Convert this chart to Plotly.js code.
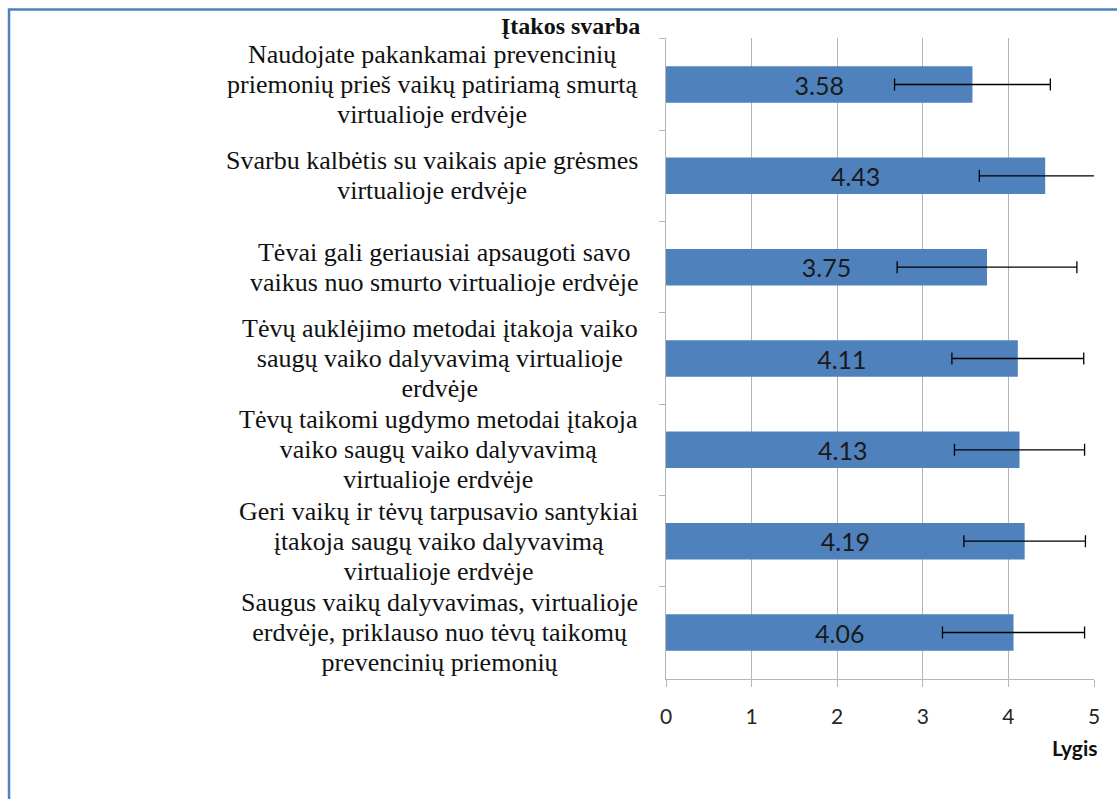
<!DOCTYPE html>
<html>
<head>
<meta charset="utf-8">
<script src="https://cdn.plot.ly/plotly-3.0.1.min.js"></script>
<style>
html,body{margin:0;padding:0;background:#fff;}
#chart{width:1117px;height:799px;}
</style>
</head>
<body>
<div id="chart"></div>
<script>
// ---- data ----
var categories = [
  "Naudojate pakankamai prevencinių|priemonių prieš vaikų patiriamą smurtą|virtualioje erdvėje",
  "Svarbu kalbėtis su vaikais apie grėsmes|virtualioje erdvėje",
  "Tėvai gali geriausiai apsaugoti savo|vaikus nuo smurto virtualioje erdvėje",
  "Tėvų auklėjimo metodai įtakoja vaiko|saugų vaiko dalyvavimą virtualioje|erdvėje",
  "Tėvų taikomi ugdymo metodai įtakoja|vaiko saugų vaiko dalyvavimą|virtualioje erdvėje",
  "Geri vaikų ir tėvų tarpusavio santykiai|įtakoja saugų vaiko dalyvavimą|virtualioje erdvėje",
  "Saugus vaikų dalyvavimas, virtualioje|erdvėje, priklauso nuo tėvų taikomų|prevencinių priemonių"
];
var values = [3.58, 4.43, 3.75, 4.11, 4.13, 4.19, 4.06];
var errors = [0.91, 0.77, 1.05, 0.77, 0.76, 0.71, 0.83];
var xTicks = [0, 1, 2, 3, 4, 5];
var axisTitleY = "Įtakos svarba";
var axisTitleX = "Lygis";

var serif = "Liberation Serif, Times New Roman, serif";
var sans = "Lato, Carlito, Calibri, sans-serif";

var trace = {
  type: "bar",
  orientation: "h",
  y: categories,
  x: values,
  marker: {color: "#4F81BD", line: {width: 0}},
  text: values.map(function(v){return v.toFixed(2);}),
  textposition: "inside",
  insidetextanchor: "middle",
  textangle: 0,
  constraintext: "none",
  textfont: {family: sans, size: 25, color: "#1a1a1a"},
  error_x: {type: "data", array: errors, visible: true, color: "#000000", thickness: 1.3, width: 6},
  hoverinfo: "x+y"
};

var annotations = categories.map(function(c){
  var lines = c.split("|").map(function(l){return '<span style="font-size:26px">' + l + '</span>';});
  return {
    xref: "paper", yref: "y", x: -0.06, y: c,
    xanchor: "right", yanchor: "middle", align: "center",
    showarrow: false, text: lines.join("<br>"),
    font: {family: serif, size: 23, color: "#111111"}
  };
});
annotations.push({
  xref: "paper", yref: "paper", x: -0.056, y: 1.0, xanchor: "right", yanchor: "bottom",
  yshift: -3,
  showarrow: false, text: "<b>" + axisTitleY + "</b>",
  font: {family: serif, size: 24, color: "#111111"}
});
annotations.push({
  xref: "paper", yref: "paper", x: 1.014, y: -0.1076, xanchor: "right", yanchor: "middle",
  showarrow: false, text: "<b>" + axisTitleX + "</b>",
  font: {family: sans, size: 21, color: "#111111"}
});

var layout = {
  width: 1117, height: 799,
  margin: {l: 666, r: 23, t: 38, b: 120, pad: 0},
  paper_bgcolor: "#ffffff", plot_bgcolor: "#ffffff",
  showlegend: false,
  bargap: 0.6,
  xaxis: {
    range: [0, 5], tickvals: xTicks, ticktext: xTicks.map(String),
    showgrid: true, gridcolor: "#b5b5b5", gridwidth: 1,
    zeroline: false, showline: true, linecolor: "#b5b5b5", linewidth: 1,
    ticks: "outside", ticklen: 7, tickcolor: "#b5b5b5",
    ticklabelstandoff: 12,
    tickfont: {family: sans, size: 21, color: "#262626"}
  },
  yaxis: {
    type: "category", autorange: "reversed",
    showticklabels: false, showgrid: false, zeroline: false,
    showline: true, linecolor: "#b5b5b5", linewidth: 1,
    ticks: "outside", tickson: "boundaries", ticklen: 6, tickcolor: "#b5b5b5"
  },
  annotations: annotations,
  shapes: [{
    type: "rect", xref: "paper", yref: "paper",
    x0: -1.535, x1: 1.3, y0: -0.4, y1: 1.0445,
    line: {color: "#4F81BD", width: 2.5}, fillcolor: "rgba(0,0,0,0)", layer: "above"
  }]
};

Plotly.newPlot("chart", [trace], layout, {displayModeBar: false, staticPlot: true});
</script>
</body>
</html>
